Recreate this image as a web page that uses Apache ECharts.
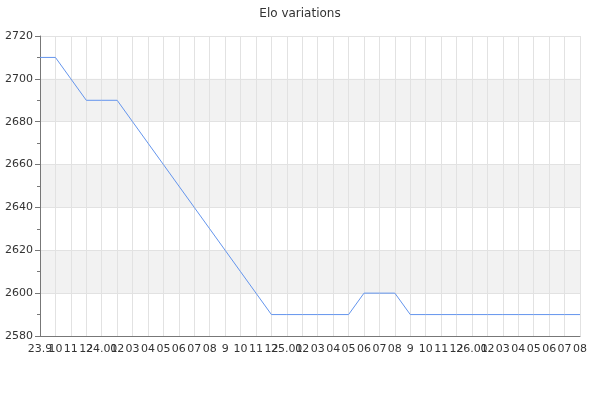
<!DOCTYPE html>
<html>
<head>
<meta charset="utf-8">
<script src="https://cdn.jsdelivr.net/npm/echarts@6/dist/echarts.min.js"></script>
<style>
  html, body { margin: 0; padding: 0; background: #fff; }
  #chart { width: 600px; height: 400px; }
</style>
</head>
<body>
<div id="chart"></div>
<script>
// Meses (etiquetas tal como se ven en el eje)
var meses = [
    '23.9', '10', '11', '12',
    '24.01', '02', '03', '04', '05', '06', '07', '08', '9', '10', '11', '12',
    '25.01', '02', '03', '04', '05', '06', '07', '08', '9', '10', '11', '12',
    '26.01', '02', '03', '04', '05', '06', '07', '08'
];

var elo = [
    2710, 2710, 2700, 2690, 2690, 2690, 2680, 2670, 2660, 2650, 2640, 2630,
    2620, 2610, 2600, 2590, 2590, 2590, 2590, 2590, 2590, 2600, 2600, 2600,
    2590, 2590, 2590, 2590, 2590, 2590, 2590, 2590, 2590, 2590, 2590, 2590
];

var yMin = 2580;
var yMax = 2720;
var yPaso = 20;

var chart = echarts.init(document.getElementById('chart'), null, { renderer: 'canvas' });

var option = {
    animation: false,
    backgroundColor: '#fff',
    textStyle: { fontFamily: 'DejaVu Sans' },
    title: {
        text: 'Elo variations',
        left: 'center',
        top: 3,
        textStyle: { fontSize: 12, fontWeight: 'normal', color: '#333', fontFamily: 'DejaVu Sans' }
    },
    grid: { left: 40, right: 20, top: 36, bottom: 64, containLabel: false },
    xAxis: {
        type: 'category',
        data: meses,
        boundaryGap: false,
        axisLine: { lineStyle: { color: '#777', width: 1 } },
        axisTick: { show: false },
        axisLabel: { interval: 0, color: '#333', fontSize: 11, margin: 8, fontFamily: 'DejaVu Sans' },
        splitLine: { show: true, interval: 0, lineStyle: { color: '#e2e2e2', width: 1 } }
    },
    yAxis: {
        type: 'value',
        min: yMin,
        max: yMax,
        interval: yPaso,
        axisLine: { show: true, lineStyle: { color: '#777', width: 1 } },
        axisTick: { show: true, length: 5, lineStyle: { color: '#777' } },
        minorTick: { show: true, splitNumber: 2, length: 3, lineStyle: { color: '#777' } },
        axisLabel: {
            color: '#333', fontSize: 11, margin: 7, fontFamily: 'DejaVu Sans',
            formatter: function (v) { return String(v); }
        },
        splitLine: { show: true, lineStyle: { color: '#e2e2e2', width: 1 } },
        splitArea: { show: true, areaStyle: { color: ['rgba(255,255,255,0)', '#f2f2f2'] } }
    },
    series: [{
        name: 'Elo',
        type: 'line',
        data: elo,
        symbol: 'none',
        lineStyle: { color: '#6495ed', width: 1 }
    }]
};

chart.setOption(option);
</script>
</body>
</html>
